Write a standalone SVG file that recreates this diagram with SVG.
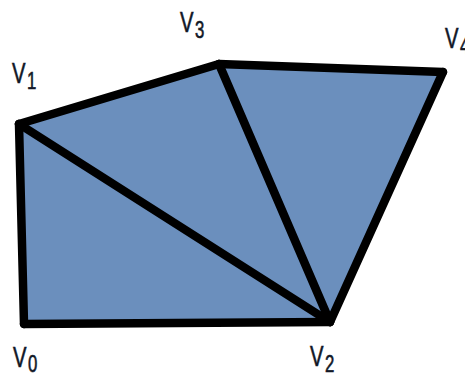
<svg xmlns="http://www.w3.org/2000/svg" width="465" height="374" viewBox="0 0 465 374">
<style>
.face{fill:#6b8fbd;stroke:none}
.edge{stroke:#000;stroke-width:8.5;stroke-linecap:round;fill:none}
.lbl{font-family:"Liberation Sans",Arial,sans-serif;fill:#111827;stroke:#111827;stroke-width:0.6}
.v{font-size:29px}
.s{font-size:24px}
</style>
<rect width="465" height="374" fill="#fff"/>
<polygon class="face" points="19,124 219,64 443,72 330,322 24,324"/>
<g id="connectors">
<line class="edge" x1="19" y1="124" x2="24" y2="324"/>
<line class="edge" x1="24" y1="324" x2="330" y2="322"/>
<line class="edge" x1="19" y1="124" x2="219" y2="64"/>
<line class="edge" x1="219" y1="64" x2="443" y2="72"/>
<line class="edge" x1="443" y1="72" x2="330" y2="322"/>
<line class="edge" x1="19" y1="124" x2="330" y2="322"/>
<line class="edge" x1="219" y1="64" x2="330" y2="322"/>
</g>
<g id="v0"><text class="lbl v" transform="translate(13,367) scale(0.7,1)">V</text><text class="lbl s" transform="translate(28,372) scale(0.7,1)">0</text></g>
<g id="v1"><text class="lbl v" transform="translate(12,83) scale(0.7,1)">V</text><text class="lbl s" transform="translate(27,89) scale(0.7,1)">1</text></g>
<g id="v2"><text class="lbl v" transform="translate(310,366) scale(0.7,1)">V</text><text class="lbl s" transform="translate(325,372) scale(0.7,1)">2</text></g>
<g id="v3"><text class="lbl v" transform="translate(180,32) scale(0.7,1)">V</text><text class="lbl s" transform="translate(195,38) scale(0.7,1)">3</text></g>
<g id="v4"><text class="lbl v" transform="translate(445,48) scale(0.7,1)">V</text><text class="lbl s" transform="translate(460,54) scale(0.7,1)">4</text></g>
</svg>
